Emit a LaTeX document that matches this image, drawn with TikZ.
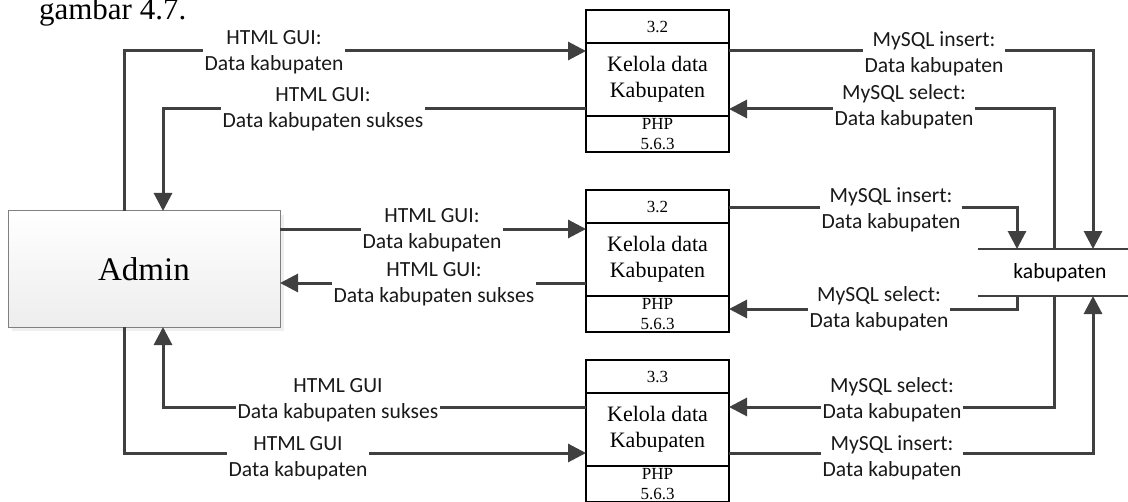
\documentclass[tikz,border=0pt]{standalone}
\usepackage{fontspec}
\setmainfont{Liberation Serif}
\setsansfont{Carlito}
\usetikzlibrary{positioning,arrows.meta,shadows}

\tikzset{
  proc/.style={draw, line width=1pt, minimum width=71.5pt, inner sep=0pt, outer sep=0pt, align=center},
  flow/.style={draw=black!75, line width=1.5pt, -{Triangle[length=9pt,width=9pt]}},
  lbl/.style={fill=white, inner sep=1pt, align=center, text=black!90,
    font=\sffamily\fontsize{10.8}{13}\selectfont},
}

\begin{document}
\begin{tikzpicture}[x=0.5pt, y=-0.5pt]
    \useasboundingbox (0,0) rectangle (1128,502);
    \clip (0,0) rectangle (1128,502);

    \node (caption) [anchor=base west, font=\fontsize{15.5}{18}\selectfont] at (32,20) {gambar 4.7.};

    % entitas luar
    \node (admin) [draw=black!50, line width=0.5pt, minimum width=136pt, minimum height=58pt, outer sep=0pt,
        top color=white, bottom color=black!7,
        drop shadow={shadow xshift=2pt, shadow yshift=-2pt, fill=black!12},
        font=\fontsize{16.5}{20}\selectfont] at (144,269) {Admin};

    % proses
    \node (p1h) [proc, minimum height=16.5pt, font=\fontsize{8.5}{10}\selectfont] at (657.5,26.5) {3.2};
    \node (p1) [proc, minimum height=36.5pt, font=\fontsize{11}{13}\selectfont, below=0pt of p1h] {Kelola data\\Kabupaten};
    \node (p1f) [proc, minimum height=18pt, font=\fontsize{8.5}{10}\selectfont, below=0pt of p1] {PHP\\5.6.3};

    \node (p2h) [proc, minimum height=16.5pt, font=\fontsize{8.5}{10}\selectfont] at (657.5,206.5) {3.2};
    \node (p2) [proc, minimum height=36.5pt, font=\fontsize{11}{13}\selectfont, below=0pt of p2h] {Kelola data\\Kabupaten};
    \node (p2f) [proc, minimum height=18pt, font=\fontsize{8.5}{10}\selectfont, below=0pt of p2] {PHP\\5.6.3};

    \node (p3h) [proc, minimum height=16.5pt, font=\fontsize{8.5}{10}\selectfont] at (657.5,376.5) {3.3};
    \node (p3) [proc, minimum height=36.5pt, font=\fontsize{11}{13}\selectfont, below=0pt of p3h] {Kelola data\\Kabupaten};
    \node (p3f) [proc, minimum height=18pt, font=\fontsize{8.5}{10}\selectfont, below=0pt of p3] {PHP\\5.6.3};

    % data store
    \node (store) [minimum width=75pt, minimum height=23.5pt, inner sep=0pt, outer sep=0pt,
        font=\sffamily\fontsize{10.8}{13}\selectfont] at (1053,272.5) {\hspace*{7pt}kabupaten};
    \draw[black!75, line width=0.8pt] (store.north west) -- (store.north east);
    \draw[black!75, line width=0.8pt] (store.south west) -- (store.south east);

    % aliran data
    \draw[flow] ([xshift=58pt]admin.north west) |- ([yshift=-4pt]p1.north west);
    \draw[flow] ([yshift=3.5pt]p1.south west) -| ([xshift=77.5pt]admin.north west);
    \draw[flow] ([yshift=-4pt]p1.north east) -| ([xshift=57.5pt]store.north west);
    \draw[flow] ([xshift=38pt]store.north west) |- ([yshift=3.5pt]p1.south east);

    \draw[flow] ([yshift=-9pt]admin.north east) -- ([yshift=-3pt]p2.north west);
    \draw[flow] ([yshift=6.5pt]p2.south west) -- ([yshift=-36pt]admin.north east);
    \draw[flow] ([yshift=7.5pt]p2.north east) -| ([xshift=19.5pt]store.north west);
    \draw[flow] ([xshift=19.5pt]store.south west) |- ([yshift=-6.5pt]p2.south east);

    \draw[flow] ([yshift=-7pt]p3.north west) -| ([xshift=77.5pt]admin.south west);
    \draw[flow] ([xshift=58pt]admin.south west) |- ([yshift=6.5pt]p3.south west);
    \draw[flow] ([xshift=38pt]store.south west) |- ([yshift=-7pt]p3.north east);
    \draw[flow] ([yshift=6.5pt]p3.south east) -| ([xshift=57.5pt]store.south west);

    % label aliran
    \node (l1) [lbl] at (274,52) {HTML GUI:\\Data kabupaten};
    \node (l2) [lbl] at (323,109) {HTML GUI:\\Data kabupaten sukses};
    \node (l3) [lbl] at (934,54) {MySQL insert:\\Data kabupaten};
    \node (l4) [lbl] at (904,107) {MySQL select:\\Data kabupaten};
    \node (l5) [lbl] at (432,230) {HTML GUI:\\Data kabupaten};
    \node (l6) [lbl] at (434,284) {HTML GUI:\\Data kabupaten sukses};
    \node (l7) [lbl] at (891,210) {MySQL insert:\\Data kabupaten};
    \node (l8) [lbl] at (879,309) {MySQL select:\\Data kabupaten};
    \node (l9) [lbl] at (338,400) {HTML GUI\\Data kabupaten sukses};
    \node (l10) [lbl] at (298,458) {HTML GUI\\Data kabupaten};
    \node (l11) [lbl] at (892,400) {MySQL select:\\Data kabupaten};
    \node (l12) [lbl] at (892,458) {MySQL insert:\\Data kabupaten};
\end{tikzpicture}
\end{document}
